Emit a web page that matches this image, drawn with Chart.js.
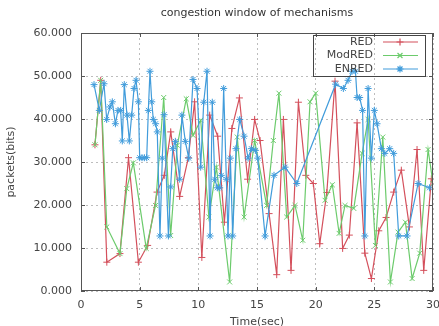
<!DOCTYPE html>
<html>
<head>
<meta charset="utf-8">
<script src="https://cdn.jsdelivr.net/npm/chart.js@4"></script>
<style>
  html, body { margin: 0; padding: 0; background: #fff; }
  #wrap { width: 439px; height: 326px; }
</style>
</head>
<body>
<div id="wrap"><canvas id="grafico" width="439" height="326"></canvas></div>
<script>
// datos (tiempo en seg, paquetes)
const tituloGrafico = 'congestion window of mechanisms';
const etiquetas = ['RED', 'ModRED', 'ENRED'];

const redX = [1.19, 1.68, 2.2, 3.32, 4.05, 4.89, 5.68, 6.48, 7.1, 7.65, 8.41, 9.15, 9.68, 10.3, 10.97, 11.65, 12.22, 12.86, 13.5, 14.2, 14.8, 15.26, 16.03, 16.68, 17.25, 17.9, 18.53, 19.16, 19.8, 20.35, 20.95, 21.65, 22.3, 22.87, 23.53, 24.19, 24.75, 25.38, 26.0, 26.65, 27.3, 27.99, 28.64, 29.21, 29.86];
const redY = [34000, 49000, 6700, 8700, 31000, 6700, 10600, 23000, 26900, 37000, 22000, 31000, 44000, 7800, 40900, 36000, 16000, 37800, 44900, 26000, 39900, 35000, 18000, 3800, 39900, 4800, 43900, 26900, 25000, 11000, 22900, 48800, 9900, 13000, 39100, 8800, 2900, 14000, 17100, 23000, 28100, 14900, 32900, 4800, 26100];

const modX = [1.19, 1.68, 2.2, 3.32, 3.9, 4.46, 5.56, 6.35, 7.05, 7.64, 8.21, 8.97, 9.55, 10.2, 10.9, 11.54, 12.67, 13.32, 13.9, 14.8, 15.82, 16.39, 16.87, 17.53, 18.24, 18.9, 19.52, 20.0, 20.8, 21.42, 22.0, 22.5, 23.25, 23.96, 24.47, 25.09, 25.72, 26.37, 27.02, 27.65, 28.22, 28.87, 29.58, 30];
const modY = [34000, 49000, 14900, 8700, 23800, 29800, 9900, 19900, 45000, 12900, 33900, 44700, 36200, 39700, 17200, 28800, 2100, 35800, 17200, 35000, 19900, 35000, 46000, 17200, 19900, 11800, 44000, 46000, 21100, 24700, 13400, 19900, 19200, 32000, 39900, 10600, 35800, 2100, 13700, 16000, 2900, 8800, 32900, 25000];

const enX = [1.11, 1.56, 1.96, 2.19, 2.47, 2.67, 2.93, 3.15, 3.38, 3.52, 3.69, 3.92, 4.12, 4.32, 4.52, 4.69, 4.89, 5.0, 5.2, 5.4, 5.6, 5.74, 5.88, 6.03, 6.16, 6.36, 6.5, 6.73, 6.93, 7.08, 7.45, 7.64, 7.82, 8.04, 8.41, 8.6, 8.89, 9.18, 9.55, 9.89, 10.2, 10.46, 10.74, 11.0, 11.19, 11.4, 11.62, 11.82, 11.96, 12.16, 12.39, 12.53, 12.73, 12.93, 13.21, 13.53, 13.9, 14.24, 14.52, 14.86, 15.06, 15.69, 16.45, 17.39, 18.39, 21.7, 22.36, 22.76, 23.1, 23.39, 23.53, 23.75, 24.0, 24.19, 24.47, 24.75, 25.0, 25.23, 25.6, 25.89, 26.31, 26.65, 27.08, 27.79, 28.73, 29.7];
const enY = [48000, 42000, 48200, 39900, 42800, 44000, 38900, 42000, 42000, 34900, 48000, 40900, 34900, 40900, 47100, 49000, 44000, 31000, 31000, 31000, 31000, 42000, 51100, 44000, 39900, 38900, 37000, 12800, 30900, 41000, 12800, 24200, 33100, 34800, 26000, 40900, 34800, 30900, 49200, 47100, 28800, 43900, 51100, 12800, 43900, 26000, 24000, 24000, 26900, 47100, 26000, 12800, 30900, 12800, 33100, 39900, 36000, 30900, 33100, 32700, 30900, 12800, 26900, 28800, 25000, 48100, 47100, 49000, 51100, 51100, 45000, 45000, 42000, 12800, 47100, 30900, 42000, 38900, 33100, 32000, 33100, 32000, 12800, 12800, 25000, 24000];

const ticksX = [0, 5, 10, 15, 20, 25, 30];
const ticksY = [0, 10000, 20000, 30000, 40000, 50000, 60000];

const fuente = 'DejaVu Sans';
const colores = ['#d4505c', '#6ccb6c', '#419cdb'];
const formas = ['cross', 'crossRot', 'star'];

function puntos(xs, ys) {
    return xs.map((x, i) => ({ x: x, y: ys[i] }));
}

// marco, marcas hacia dentro, titulo y leyenda estilo gnuplot
const marcoPlugin = {
    id: 'marco',
    afterDraw(chart) {
        const ctx = chart.ctx;
        const a = chart.chartArea;
        const sx = chart.scales.x, sy = chart.scales.y;
        ctx.save();
        ctx.strokeStyle = '#555';
        ctx.lineWidth = 1;
        ctx.beginPath();
        ticksX.forEach(v => {
            const px = Math.round(sx.getPixelForValue(v)) + 0.5;
            ctx.moveTo(px, a.bottom); ctx.lineTo(px, a.bottom - 4);
            ctx.moveTo(px, a.top); ctx.lineTo(px, a.top + 4);
        });
        ticksY.forEach(v => {
            const py = Math.round(sy.getPixelForValue(v)) + 0.5;
            ctx.moveTo(a.left, py); ctx.lineTo(a.left + 4, py);
            ctx.moveTo(a.right, py); ctx.lineTo(a.right - 4, py);
        });
        ctx.stroke();
        ctx.strokeRect(Math.round(a.left) + 0.5, Math.round(a.top) + 0.5, Math.round(a.width) - 1, Math.round(a.height) - 1);

        // titulo
        ctx.fillStyle = '#333';
        ctx.font = '11px "' + fuente + '"';
        ctx.textAlign = 'center';
        ctx.textBaseline = 'middle';
        ctx.fillText(tituloGrafico, (a.left + a.right) / 2, 13);

        // leyenda (transparente, con borde)
        const bx = 313, by = 35, bw = 112, bh = 41;
        ctx.strokeStyle = '#444';
        ctx.strokeRect(bx + 0.5, by + 0.5, bw, bh);
        chart.data.datasets.forEach((ds, i) => {
            const yy = by + 7 + i * 13.5;
            ctx.fillStyle = '#444';
            ctx.textAlign = 'right';
            ctx.fillText(ds.label, 373, yy);
            ctx.strokeStyle = ds.borderColor;
            ctx.lineWidth = 1.2;
            ctx.beginPath();
            ctx.moveTo(383, yy); ctx.lineTo(418, yy);
            ctx.stroke();
            Chart.helpers.drawPoint(ctx, { pointStyle: ds.pointStyle, radius: 3.5, borderWidth: 1 }, 400, yy);
        });
        ctx.restore();
    }
};

new Chart(document.getElementById('grafico'), {
    type: 'scatter',
    data: {
        datasets: [
            { label: etiquetas[0], data: puntos(redX, redY), order: 3 },
            { label: etiquetas[1], data: puntos(modX, modY), order: 2 },
            { label: etiquetas[2], data: puntos(enX, enY), order: 1 }
        ].map((d, i) => Object.assign(d, {
            showLine: true,
            borderColor: colores[i],
            backgroundColor: colores[i],
            borderWidth: 1.2,
            pointStyle: formas[i],
            pointRadius: 3.5,
            pointBorderWidth: 1,
            pointHoverRadius: 3.5
        }))
    },
    options: {
        responsive: false,
        animation: false,
        layout: { padding: { top: 33, right: 6, left: 0, bottom: 0 } },
        plugins: { legend: { display: false }, title: { display: false }, tooltip: { enabled: false } },
        scales: {
            x: {
                type: 'linear', min: 0, max: 30,
                afterBuildTicks: s => { s.ticks = ticksX.map(v => ({ value: v })); },
                afterFit: s => { s.height = 35; s.paddingLeft = 0; s.paddingRight = 0; },
                grid: { color: '#bdbdbd', drawTicks: false },
                border: { display: false, dash: [2, 3] },
                ticks: { padding: 8, color: '#444', font: { family: fuente, size: 11 } },
                title: { display: true, text: 'Time(sec)', color: '#444', font: { family: fuente, size: 11 }, padding: { top: 0, bottom: -3 } }
            },
            y: {
                min: 0, max: 60000,
                afterBuildTicks: s => { s.ticks = ticksY.map(v => ({ value: v })); },
                afterFit: s => { s.width = 81; },
                grid: { color: '#bdbdbd', drawTicks: false },
                border: { display: false, dash: [2, 3] },
                ticks: { padding: 9, color: '#444', font: { family: fuente, size: 11 }, callback: v => (v / 1000).toFixed(3) },
                title: { display: true, text: 'packets(bits)', color: '#444', font: { family: fuente, size: 11 }, padding: { top: 5, bottom: 0 } }
            }
        }
    },
    plugins: [marcoPlugin]
});
</script>
</body>
</html>
